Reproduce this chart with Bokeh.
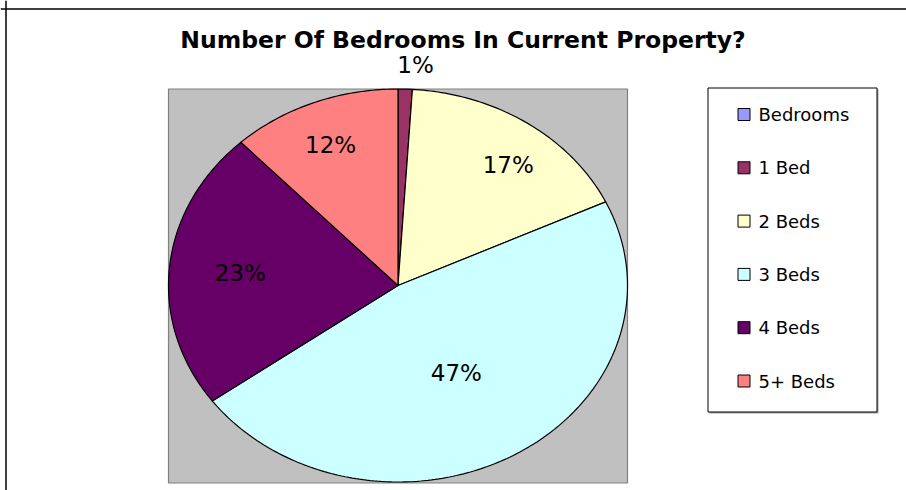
import numpy as np
from bokeh.plotting import figure
from bokeh.models import Range1d, Span, ColumnDataSource
from bokeh.core.properties import value
from bokeh.embed import file_html
from bokeh.resources import INLINE

# ---- data ----
categories = ["Bedrooms", "1 Bed", "2 Beds", "3 Beds", "4 Beds", "5+ Beds"]
percents = [0, 1, 17, 47, 23, 12]
colors = ["#9999FF", "#993366", "#FFFFCC", "#CCFFFF", "#660066", "#FF8080"]
title_text = "Number Of Bedrooms In Current Property?"

# ---- layout (page-pixel coordinate frame) ----
CX, CY, RX, RY = 397.5, 285.0, 229.5, 196.5
label_r = [0, 1.12, 0.80, 0.50, 0.69, 0.78]
label_dx = [0, 9.5, 7, 0, 0, -1.5]
label_dy = [0, -1, 10, 2.5, 0, 2.5]
FONT = value("DejaVu Sans")

W, H = 906, 490
p = figure(width=W, height=H, x_range=Range1d(0, W), y_range=Range1d(H, 0),
           output_backend="svg", toolbar_location=None, min_border=0,
           x_axis_type=None, y_axis_type=None, outline_line_color=None,
           background_fill_color="white", border_fill_color="white")
p.xgrid.visible = False
p.ygrid.visible = False

# outer chart border (left and top visible)
p.add_layout(Span(location=5.5, dimension="height", line_color="black", line_width=1.5))
p.add_layout(Span(location=8.5, dimension="width", line_color="black", line_width=1.5))

# plot area (gray box = pie bounding box)
p.quad(left=[CX - RX], right=[CX + RX], top=[CY - RY], bottom=[CY + RY + 1],
       fill_color="#C0C0C0", line_color="#808080", line_width=1.2)

# pie slices
total = float(sum(percents))
starts = np.concatenate([[0], np.cumsum(percents)[:-1]])
xs, ys, fills = [], [], []
lx, ly, ltxt, ldx, ldy = [], [], [], [], []
for i, v in enumerate(percents):
    if v <= 0:
        continue
    n = max(4, int(v * 4))
    th = 2 * np.pi * (starts[i] + np.linspace(0, v, n)) / total
    xs.append(list(np.concatenate([[CX], CX + RX * np.sin(th)])))
    ys.append(list(np.concatenate([[CY], CY - RY * np.cos(th)])))
    fills.append(colors[i])
    mid = 2 * np.pi * (starts[i] + v / 2) / total
    lx.append(CX + label_r[i] * RX * np.sin(mid))
    ly.append(CY - label_r[i] * RY * np.cos(mid))
    ltxt.append(f"{v}%")
    ldx.append(label_dx[i])
    ldy.append(label_dy[i])

p.patches(xs=xs, ys=ys, fill_color=fills, line_color="black", line_width=1.2)

lsrc = ColumnDataSource(dict(x=lx, y=ly, t=ltxt, dx=ldx, dy=ldy))
p.text(x="x", y="y", text="t", x_offset="dx", y_offset="dy", source=lsrc,
       text_font=FONT, text_font_size="23px", text_color="black",
       text_align="center", text_baseline="middle")

# title
p.text(x=[462.5], y=[39.5], text=[title_text], text_font=FONT, text_font_style="bold",
       text_font_size="23.5px", text_color="black", text_align="center",
       text_baseline="alphabetic")

# legend
p.quad(left=[709], right=[878], top=[89], bottom=[413], fill_color="#A0A0A0", line_color=None)
p.quad(left=[707.5], right=[876.5], top=[87.5], bottom=[411.5], fill_color="white",
       line_color="black", line_width=1)
leg_y = [114 + 53.3 * i for i in range(len(categories))]
p.scatter(x=[743.5] * len(categories), y=leg_y, marker="square", size=12,
          fill_color=colors, line_color="black", line_width=1)
p.text(x=[758] * len(categories), y=leg_y, text=categories, text_font=FONT,
       text_font_size="18px", text_color="black", text_align="left",
       text_baseline="middle")

open("out.html", "w").write(file_html(p, INLINE))
